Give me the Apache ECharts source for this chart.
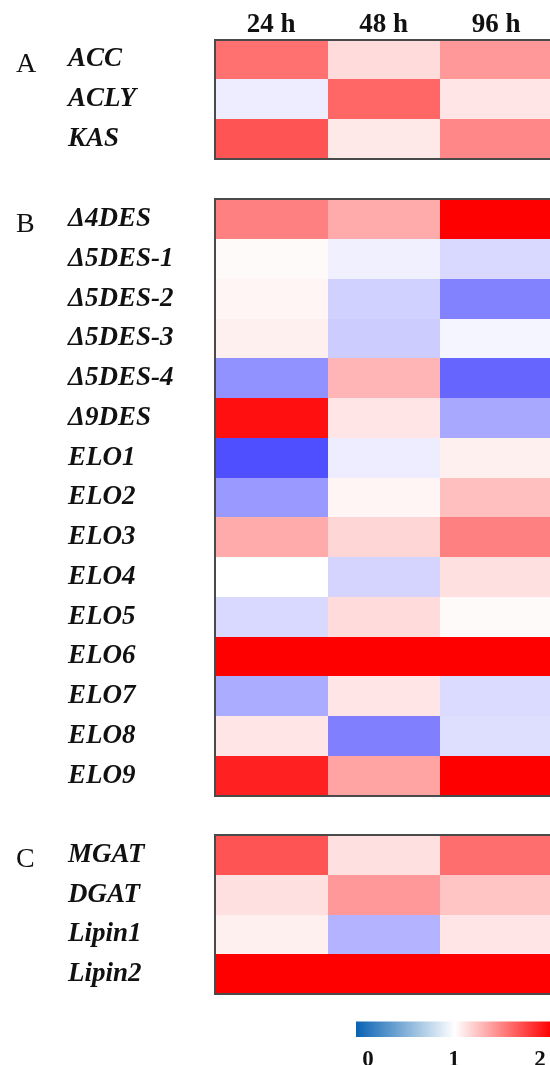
<!DOCTYPE html>
<html>
<head>
<meta charset="utf-8">
<script src="https://cdn.jsdelivr.net/npm/echarts/dist/echarts.min.js"></script>
<style>
  html, body { margin: 0; padding: 0; background: #ffffff; }
  #chart { width: 550px; height: 1065px; }
</style>
</head>
<body>
<div id="chart"></div>
<script>
// Relative expression (fold change) of lipid-metabolism genes at three time points
const timePoints = ['24 h', '48 h', '96 h'];

// A: fatty-acid synthesis
const genesA = ['ACC', 'ACLY', 'KAS'];
const valuesA = [
  [1.56, 1.14, 1.40],
  [0.93, 1.60, 1.10],
  [1.67, 1.09, 1.47]
];

// B: desaturases and elongases
const genesB = ['Δ4DES', 'Δ5DES-1', 'Δ5DES-2', 'Δ5DES-3', 'Δ5DES-4', 'Δ9DES',
  'ELO1', 'ELO2', 'ELO3', 'ELO4', 'ELO5', 'ELO6', 'ELO7', 'ELO8', 'ELO9'];
const valuesB = [
  [1.50, 1.33, 2.00],
  [1.02, 0.94, 0.85],
  [1.04, 0.82, 0.51],
  [1.06, 0.80, 0.96],
  [0.57, 1.29, 0.40],
  [1.94, 1.10, 0.66],
  [0.31, 0.93, 1.06],
  [0.60, 1.04, 1.25],
  [1.33, 1.16, 1.50],
  [1.00, 0.83, 1.12],
  [0.85, 1.14, 1.02],
  [2.00, 2.00, 2.00],
  [0.67, 1.10, 0.86],
  [1.10, 0.50, 0.87],
  [1.87, 1.36, 2.00]
];

// C: glycerolipid synthesis
const genesC = ['MGAT', 'DGAT', 'Lipin1', 'Lipin2'];
const valuesC = [
  [1.67, 1.12, 1.57],
  [1.12, 1.40, 1.23],
  [1.06, 0.70, 1.10],
  [2.00, 2.00, 2.00]
];

const panelLetters = ['A', 'B', 'C'];
const scaleTicks = [0, 1, 2];

const chart = echarts.init(document.getElementById('chart'));

const serif = '"Liberation Serif", "Times New Roman", serif';
const rowH = 39.75;
const colW = 112.5;
const gridLeft = 215;
const panelTops = [39.5, 199.3, 835];
const panels = [
  { genes: genesA, values: valuesA },
  { genes: genesB, values: valuesB },
  { genes: genesC, values: valuesC }
];

function toCells(values) {
  const out = [];
  values.forEach((row, r) => row.forEach((v, c) => out.push([c, r, v])));
  return out;
}

// one heat cell per datum, plus the panel frame on the outer edges
function cellRenderer(nRows, nCols) {
  return function (params, api) {
    const c = api.value(0);
    const r = api.value(1);
    const p = api.coord([c, r]);
    const s = api.size([1, 1]);
    const w = Math.abs(s[0]);
    const h = Math.abs(s[1]);
    const x0 = Math.round(p[0] - w / 2);
    const x1 = Math.round(p[0] + w / 2);
    const y0 = Math.round(p[1] - h / 2);
    const y1 = Math.round(p[1] + h / 2);
    const frame = { stroke: '#4a4a4a', lineWidth: 2 };
    const children = [{
      type: 'rect',
      shape: { x: x0, y: y0, width: x1 - x0, height: y1 - y0 },
      style: { fill: api.visual('color') }
    }];
    if (r === 0) children.push({ type: 'line', shape: { x1: x0 - 1, y1: y0, x2: x1 + 1, y2: y0 }, style: frame });
    if (r === nRows - 1) children.push({ type: 'line', shape: { x1: x0 - 1, y1: y1, x2: x1 + 1, y2: y1 }, style: frame });
    if (c === 0) children.push({ type: 'line', shape: { x1: x0, y1: y0 - 1, x2: x0, y2: y1 + 1 }, style: frame });
    if (c === nCols - 1) children.push({ type: 'line', shape: { x1: x1, y1: y0 - 1, x2: x1, y2: y1 + 1 }, style: frame });
    return { type: 'group', children: children };
  };
}

const grids = [], xAxes = [], yAxes = [], series = [], graphics = [];

panels.forEach((pn, i) => {
  grids.push({
    left: gridLeft,
    top: panelTops[i],
    width: colW * timePoints.length,
    height: rowH * pn.genes.length,
    outerBoundsMode: 'none',
    containLabel: false
  });
  xAxes.push({
    type: 'category',
    gridIndex: i,
    position: 'top',
    data: timePoints,
    axisLine: { show: false },
    axisTick: { show: false },
    splitLine: { show: false },
    axisLabel: {
      show: i === 0,
      margin: 1,
      fontFamily: serif,
      fontWeight: 'bold',
      fontSize: 27,
      color: '#111'
    }
  });
  yAxes.push({
    type: 'category',
    gridIndex: i,
    inverse: true,
    data: pn.genes,
    axisLine: { show: false },
    axisTick: { show: false },
    splitLine: { show: false },
    axisLabel: {
      align: 'left',
      margin: gridLeft - 68,
      fontFamily: serif,
      fontStyle: 'italic',
      fontWeight: 'bold',
      fontSize: 27,
      color: '#111'
    }
  });
  series.push({
    type: 'custom',
    xAxisIndex: i,
    yAxisIndex: i,
    renderItem: cellRenderer(pn.genes.length, timePoints.length),
    encode: { x: 0, y: 1 },
    data: toCells(pn.values),
    silent: true
  });
  graphics.push({
    type: 'text',
    left: 16,
    top: panelTops[i] + rowH / 2 - 9,
    style: {
      text: panelLetters[i],
      font: '28px ' + serif,
      fill: '#111'
    }
  });
});

// colour-scale axis under the panels
grids.push({ left: 368, top: 1021.5, width: 172, height: 15.5, outerBoundsMode: 'none', containLabel: false });
xAxes.push({
  type: 'value',
  gridIndex: 3,
  min: scaleTicks[0],
  max: scaleTicks[scaleTicks.length - 1],
  interval: 1,
  axisLine: { show: false },
  axisTick: { show: false },
  splitLine: { show: false },
  axisLabel: {
    margin: 12,
    fontFamily: serif,
    fontWeight: 'bold',
    fontSize: 23,
    color: '#111',
    showMinLabel: true,
    showMaxLabel: true
  }
});
yAxes.push({ type: 'value', gridIndex: 3, show: false });

graphics.push({
  type: 'rect',
  shape: { x: 356, y: 1021.5, width: 210, height: 15.5 },
  style: {
    fill: new echarts.graphic.LinearGradient(0, 0, 1, 0, [
      { offset: 0, color: '#0862b2' },
      { offset: 0.47, color: '#ffffff' },
      { offset: 0.93, color: '#ff0000' },
      { offset: 1, color: '#ff0000' }
    ])
  },
  silent: true
});

chart.setOption({
  backgroundColor: '#ffffff',
  animation: false,
  grid: grids,
  xAxis: xAxes,
  yAxis: yAxes,
  visualMap: {
    show: false,
    type: 'continuous',
    min: 0,
    max: 2,
    dimension: 2,
    seriesIndex: [0, 1, 2],
    inRange: { color: ['#0000ff', '#ffffff', '#ff0000'] }
  },
  graphic: graphics,
  series: series
});
</script>
</body>
</html>
